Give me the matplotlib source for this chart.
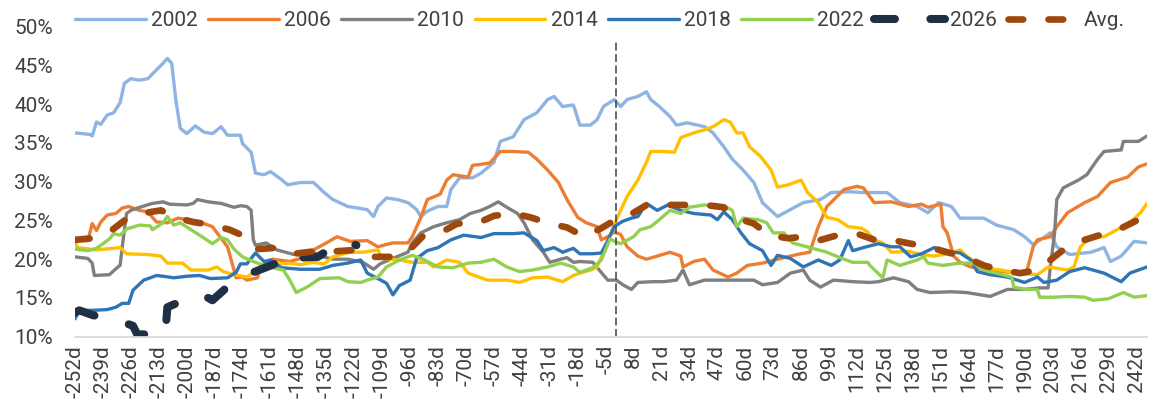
import numpy as np
import matplotlib
matplotlib.use("Agg")
import matplotlib.pyplot as plt
from matplotlib.ticker import PercentFormatter

plt.rcParams['font.family'] = ['Roboto', 'DejaVu Sans']

# trading days around the event (0d = event day)
first_day = -252
last_day = 247
tick_step = 13
split_day = 0
split_top = 48.0

# (day, value in %)
s2002 = [(-252, 36.3), (-245, 36.1), (-244, 35.9), (-242, 37.7), (-240, 37.4), (-237, 38.6),
         (-234, 38.9), (-231, 40.2), (-229, 42.7), (-226, 43.3), (-222, 43.1), (-218, 43.3),
         (-216, 43.9), (-212, 45.0), (-209, 45.9), (-207, 45.3), (-205, 40.4), (-203, 36.9),
         (-200, 36.2), (-196, 37.2), (-192, 36.4), (-188, 36.2), (-184, 37.1), (-181, 36.0),
         (-175, 36.0), (-174, 34.9), (-170, 33.8), (-168, 31.1), (-164, 30.9), (-161, 31.3),
         (-156, 30.3), (-153, 29.6), (-147, 29.9), (-141, 29.9), (-136, 28.6), (-132, 27.7),
         (-125, 26.8), (-116, 26.4), (-113, 25.5), (-111, 26.8), (-107, 27.9), (-102, 27.7),
         (-97, 27.3), (-93, 26.4), (-91, 25.5), (-88, 26.2), (-83, 26.8), (-79, 26.8),
         (-77, 29.0), (-73, 30.5), (-67, 30.5), (-63, 31.1), (-57, 32.5), (-54, 35.2),
         (-48, 35.8), (-43, 38.0), (-37, 38.9), (-32, 40.6), (-29, 41.0), (-25, 39.7),
         (-20, 39.9), (-17, 37.3), (-12, 37.3), (-9, 38.0), (-6, 39.7), (-1, 40.6),
         (2, 39.7), (5, 40.6), (10, 41.0), (14, 41.6), (16, 40.6), (20, 39.7), (25, 38.4),
         (28, 37.3), (33, 37.6), (41, 37.1), (45, 36.3), (50, 34.5), (54, 32.9), (59, 31.5),
         (64, 29.9), (68, 27.3), (75, 25.5), (81, 26.4), (87, 27.3), (95, 27.7), (100, 28.6),
         (108, 28.7), (115, 28.6), (126, 28.6), (132, 27.3), (140, 26.8), (145, 26.0),
         (150, 27.3), (156, 26.8), (160, 25.3), (171, 25.3), (177, 24.4), (185, 23.8),
         (190, 22.9), (194, 21.9), (199, 22.8), (202, 23.4), (205, 21.6), (211, 20.6),
         (221, 20.9), (227, 21.5), (230, 19.7), (235, 20.4), (241, 22.3), (247, 22.1)]

s2006 = [(-252, 22.4), (-246, 22.4), (-244, 24.6), (-242, 23.7), (-240, 24.8), (-237, 25.7),
         (-233, 25.9), (-230, 26.6), (-227, 26.8), (-222, 26.3), (-218, 26.1), (-216, 25.4),
         (-214, 24.8), (-209, 24.7), (-204, 25.3), (-200, 25.1), (-194, 24.8), (-188, 24.2),
         (-184, 22.7), (-181, 21.6), (-179, 19.6), (-177, 17.6), (-174, 17.7), (-172, 17.3),
         (-167, 17.6), (-166, 19.0), (-160, 20.0), (-152, 19.7), (-147, 20.1), (-141, 21.2),
         (-135, 22.1), (-130, 22.9), (-124, 22.3), (-116, 22.4), (-111, 21.6), (-107, 21.9),
         (-104, 22.1), (-97, 22.1), (-95, 22.9), (-91, 25.4), (-88, 27.7), (-82, 28.4),
         (-79, 30.2), (-76, 30.9), (-69, 30.6), (-67, 32.1), (-59, 32.4), (-54, 33.9),
         (-48, 33.9), (-41, 33.8), (-37, 32.9), (-32, 31.5), (-27, 29.9), (-23, 27.7),
         (-18, 25.4), (-14, 24.7), (-9, 24.2), (-7, 22.5), (-4, 22.9), (-1, 23.5), (2, 23.2),
         (5, 21.6), (10, 20.4), (14, 20.0), (19, 20.4), (25, 20.9), (30, 20.4), (31, 19.0),
         (36, 19.7), (41, 20.0), (45, 18.6), (52, 17.7), (56, 18.2), (61, 19.2), (68, 19.5),
         (75, 20.0), (84, 20.6), (90, 20.9), (94, 24.2), (98, 26.8), (106, 29.0), (112, 29.4),
         (115, 29.2), (120, 27.3), (128, 27.4), (136, 26.8), (142, 27.1), (145, 26.7),
         (151, 27.1), (152, 24.2), (154, 23.4), (157, 20.4), (160, 19.6), (165, 19.0),
         (174, 18.6), (187, 18.2), (191, 18.4), (194, 21.6), (196, 22.5), (202, 22.9),
         (205, 24.2), (210, 26.0), (218, 27.3), (224, 28.1), (230, 29.9), (238, 30.6),
         (243, 31.9), (247, 32.3)]

s2010 = [(-252, 20.3), (-246, 20.1), (-244, 19.5), (-243, 17.9), (-236, 18.0), (-232, 19.0),
         (-231, 19.2), (-230, 21.6), (-228, 25.9), (-226, 26.3), (-223, 26.6), (-216, 27.2),
         (-211, 27.4), (-208, 27.1), (-200, 27.0), (-197, 27.2), (-195, 27.7), (-190, 27.4),
         (-184, 27.2), (-178, 26.7), (-175, 26.9), (-172, 26.8), (-170, 26.3), (-169, 22.5),
         (-168, 21.8), (-163, 22.1), (-158, 21.2), (-150, 20.6), (-141, 20.9), (-138, 20.4),
         (-132, 20.0), (-125, 20.0), (-118, 19.6), (-113, 18.7), (-110, 19.4), (-105, 20.0),
         (-97, 20.9), (-95, 22.1), (-91, 23.4), (-85, 24.2), (-79, 24.7), (-73, 25.1),
         (-68, 25.9), (-63, 26.3), (-59, 26.8), (-55, 27.4), (-51, 26.7), (-46, 25.9),
         (-43, 24.7), (-39, 22.5), (-34, 20.9), (-31, 19.6), (-26, 20.0), (-23, 20.2),
         (-20, 19.6), (-17, 19.7), (-11, 19.6), (-4, 17.3), (0, 17.3), (3, 16.7), (7, 16.1),
         (10, 17.0), (17, 17.1), (22, 17.1), (28, 17.3), (31, 18.6), (34, 16.7), (41, 17.3),
         (56, 17.3), (64, 17.3), (68, 16.7), (75, 17.0), (81, 18.2), (87, 18.6), (90, 17.3),
         (95, 16.4), (101, 17.3), (110, 17.1), (118, 17.0), (122, 17.1), (129, 17.6),
         (136, 17.1), (140, 16.1), (146, 15.7), (156, 15.8), (163, 15.7), (174, 15.2),
         (182, 16.1), (190, 16.1), (197, 16.3), (201, 16.3), (202, 19.0), (204, 23.4),
         (205, 27.7), (208, 29.2), (215, 30.2), (219, 30.9), (224, 32.9), (227, 33.9),
         (235, 34.1), (236, 35.2), (243, 35.2), (247, 35.9)]

s2014 = [(-252, 22.7), (-251, 21.5), (-242, 21.2), (-231, 21.5), (-228, 20.7), (-218, 20.6),
         (-212, 20.4), (-209, 19.5), (-202, 19.5), (-198, 18.6), (-190, 18.6), (-186, 19.0),
         (-183, 18.4), (-178, 18.0), (-172, 17.7), (-167, 18.6), (-163, 19.2), (-153, 19.5),
         (-147, 19.3), (-141, 19.6), (-136, 19.4), (-132, 20.3), (-124, 20.9), (-118, 20.9),
         (-111, 21.2), (-109, 20.1), (-101, 19.9), (-95, 19.6), (-88, 19.6), (-85, 19.0),
         (-79, 19.9), (-73, 19.6), (-69, 18.2), (-60, 17.3), (-51, 17.3), (-45, 17.0),
         (-39, 17.6), (-32, 17.7), (-25, 17.1), (-20, 17.9), (-17, 18.2), (-12, 18.6),
         (-9, 19.0), (-6, 20.9), (0, 25.1), (5, 28.1), (10, 30.2), (14, 32.5), (16, 33.9),
         (22, 33.9), (27, 33.8), (30, 35.7), (36, 36.3), (41, 36.7), (45, 37.1), (50, 38.0),
         (53, 37.7), (56, 36.3), (59, 36.3), (62, 34.5), (67, 33.3), (72, 31.5), (75, 29.3),
         (80, 29.6), (86, 30.2), (89, 28.6), (94, 27.3), (98, 25.4), (103, 25.1), (108, 24.2),
         (114, 24.0), (117, 23.5), (120, 22.5), (124, 22.1), (128, 20.9), (136, 21.0),
         (142, 20.6), (148, 20.4), (156, 20.8), (160, 21.2), (163, 20.4), (171, 18.9),
         (179, 18.6), (187, 18.2), (196, 18.0), (201, 19.0), (210, 18.6), (213, 19.0),
         (216, 21.6), (221, 22.9), (227, 22.9), (233, 23.8), (239, 24.7), (244, 26.0),
         (247, 27.2)]

s2018 = [(-252, 12.3), (-250, 13.4), (-244, 13.4), (-237, 13.5), (-233, 13.8), (-230, 14.3),
         (-227, 14.3), (-225, 16.0), (-220, 17.3), (-214, 17.9), (-211, 17.8), (-206, 17.6),
         (-200, 17.8), (-194, 17.9), (-189, 17.5), (-181, 17.6), (-177, 18.3), (-175, 19.4),
         (-172, 19.4), (-168, 20.8), (-164, 19.7), (-161, 19.9), (-156, 18.9), (-147, 18.7),
         (-138, 18.7), (-132, 19.2), (-125, 19.5), (-119, 19.9), (-116, 18.2), (-111, 17.5),
         (-107, 16.9), (-104, 15.4), (-101, 16.6), (-96, 17.3), (-93, 20.1), (-88, 21.1),
         (-83, 21.5), (-77, 22.5), (-71, 23.1), (-63, 22.8), (-57, 23.3), (-48, 23.3),
         (-43, 23.4), (-37, 22.4), (-34, 21.1), (-29, 21.5), (-25, 20.9), (-20, 21.4),
         (-17, 20.7), (-11, 20.7), (-7, 20.8), (-4, 22.4), (-1, 24.2), (3, 24.9), (7, 25.3),
         (10, 25.5), (14, 27.2), (19, 26.3), (24, 27.0), (30, 26.3), (36, 25.9), (44, 25.7),
         (47, 25.1), (50, 26.1), (54, 25.1), (58, 23.4), (62, 22.0), (68, 21.1), (72, 19.2),
         (75, 20.5), (81, 20.1), (87, 19.0), (94, 19.9), (100, 19.2), (104, 19.9), (108, 22.4),
         (110, 21.1), (115, 21.5), (122, 22.0), (128, 21.6), (132, 21.6), (137, 20.3),
         (142, 20.7), (148, 21.5), (152, 21.1), (160, 20.8), (165, 19.9), (168, 18.4),
         (174, 18.0), (182, 17.7), (190, 17.0), (196, 17.7), (199, 17.0), (205, 17.3),
         (211, 18.4), (218, 18.9), (227, 18.2), (235, 17.1), (239, 18.2), (247, 19.0)]

s2022 = [(-252, 21.3), (-246, 21.1), (-242, 21.4), (-236, 22.6), (-234, 23.3), (-231, 23.1),
         (-228, 23.9), (-222, 24.4), (-217, 24.3), (-216, 23.8), (-211, 24.7), (-209, 25.5),
         (-206, 24.4), (-203, 24.7), (-198, 23.8), (-194, 23.1), (-188, 22.0), (-184, 22.8),
         (-181, 22.5), (-178, 21.3), (-174, 20.3), (-169, 19.7), (-163, 19.1), (-155, 18.6),
         (-152, 17.3), (-149, 15.7), (-144, 16.4), (-138, 17.5), (-129, 17.6), (-125, 17.1),
         (-119, 17.0), (-116, 17.3), (-111, 17.7), (-107, 19.0), (-101, 19.9), (-95, 20.5),
         (-90, 20.0), (-83, 19.0), (-76, 18.9), (-69, 19.5), (-63, 19.6), (-57, 20.0),
         (-51, 19.0), (-45, 18.4), (-39, 18.6), (-32, 19.0), (-26, 19.5), (-20, 19.0),
         (-17, 18.3), (-11, 18.9), (-7, 19.9), (-3, 22.6), (0, 22.2), (2, 22.0), (8, 22.9),
         (11, 23.8), (16, 24.2), (20, 25.1), (25, 26.3), (30, 25.9), (34, 26.7), (41, 27.0),
         (45, 26.9), (52, 26.6), (54, 26.3), (56, 24.2), (59, 25.3), (66, 25.1), (70, 24.7),
         (73, 23.4), (78, 23.4), (82, 22.1), (90, 21.5), (98, 20.9), (104, 20.2), (110, 19.6),
         (117, 19.6), (118, 19.2), (124, 17.6), (126, 19.9), (132, 19.2), (140, 19.9),
         (143, 20.3), (145, 19.5), (152, 19.2), (160, 19.5), (166, 19.5), (171, 18.6),
         (177, 18.2), (184, 17.7), (185, 16.4), (191, 16.1), (196, 16.1), (197, 15.1),
         (204, 15.1), (211, 15.2), (218, 15.1), (222, 14.7), (229, 14.9), (236, 15.7),
         (241, 15.1), (247, 15.3)]

s2026 = [(-252, 13.1), (-250, 13.4), (-244, 12.8), (-230, 11.9), (-225, 11.4), (-223, 10.3),
         (-210, 10.3), (-209, 13.8), (-199, 15.0), (-195, 15.4), (-190, 15.0), (-188, 14.7),
         (-180, 16.7), (-175, 17.3), (-170, 18.2), (-158, 19.5), (-153, 20.3), (-152, 20.9),
         (-147, 20.2), (-139, 20.3), (-129, 22.1), (-124, 22.1), (-121, 21.8)]

s_avg = [(-252, 22.5), (-244, 22.7), (-236, 23.5), (-229, 25.0), (-221, 25.9), (-212, 26.3),
         (-204, 25.3), (-197, 24.8), (-188, 24.4), (-180, 23.8), (-171, 22.7), (-167, 21.3),
         (-157, 21.5), (-150, 20.7), (-141, 21.0), (-132, 21.0), (-121, 21.2), (-115, 20.3),
         (-105, 20.3), (-97, 21.0), (-90, 23.0), (-82, 23.4), (-74, 24.6), (-65, 24.6),
         (-57, 25.6), (-48, 25.9), (-40, 25.4), (-31, 24.6), (-23, 24.1), (-15, 22.9),
         (-7, 24.0), (-1, 25.0), (8, 26.0), (16, 27.3), (24, 27.0), (33, 27.0), (41, 27.0),
         (50, 26.7), (56, 25.3), (64, 24.6), (71, 23.1), (80, 22.7), (87, 22.9), (94, 22.4),
         (103, 23.1), (112, 23.3), (120, 22.5), (128, 22.5), (137, 22.0), (145, 21.6),
         (154, 20.9), (162, 20.3), (171, 19.2), (179, 18.6), (188, 18.2), (196, 18.6),
         (202, 19.9), (208, 21.2), (218, 22.5), (225, 23.1), (235, 24.0), (243, 25.1),
         (247, 25.5)]

solid_series = [('2002', s2002, '#8EB4E3'),
                ('2006', s2006, '#ED7D31'),
                ('2010', s2010, '#7F7F7F'),
                ('2014', s2014, '#FFC000'),
                ('2018', s2018, '#2E75B6'),
                ('2022', s2022, '#92D050')]

text_col = '#404040'

fig = plt.figure(figsize=(11.5, 4.05), dpi=100)
ax = fig.add_axes([75 / 1150, 68.3 / 405, 1072 / 1150, 310 / 405])

for name, data, col in solid_series:
    d, v = np.array(data).T
    ax.plot(d, v, color=col, lw=2.4, label=name,
            solid_joinstyle='round', solid_capstyle='round')

d, v = np.array(s2026).T
ax.plot(d, v, color='#1F3044', lw=5.8, ls=(0, (2.6, 4.4)), label='2026',
        dash_capstyle='round', dash_joinstyle='round')

d, v = np.array(s_avg).T
ax.plot(d, v, color='#9E480E', lw=4.8, ls=(0, (2.2, 3.8)), label='Avg.',
        dash_capstyle='round', dash_joinstyle='round')

# event marker
ax.vlines(split_day, 10, split_top, colors='#404040', lw=1.1, linestyles=(0, (5.2, 2.3)))

ax.set_xlim(first_day, last_day)
ax.set_ylim(10, 50)
ax.set_yticks(np.arange(10, 51, 5))
ax.yaxis.set_major_formatter(PercentFormatter(decimals=0))

ticks = list(range(first_day, last_day + 1, tick_step))
ax.set_xticks(ticks)
ax.set_xticklabels([f'{t}d' for t in ticks], rotation=90)

ax.tick_params(axis='both', length=0, labelsize=15, labelcolor=text_col)
ax.tick_params(axis='y', pad=16)
ax.tick_params(axis='x', pad=6)

for side in ['left', 'right', 'top']:
    ax.spines[side].set_visible(False)
ax.spines['bottom'].set_color('#D9D9D9')
ax.spines['bottom'].set_linewidth(1.3)

leg = fig.legend(loc='center left', bbox_to_anchor=(75 / 1150, 1 - 20.7 / 405),
                 ncol=8, frameon=False, fontsize=15, handlelength=3.4,
                 handletextpad=0.25, columnspacing=0.5, borderpad=0, borderaxespad=0)
for t in leg.get_texts():
    t.set_color(text_col)

fig.savefig('out.png', dpi=100)
